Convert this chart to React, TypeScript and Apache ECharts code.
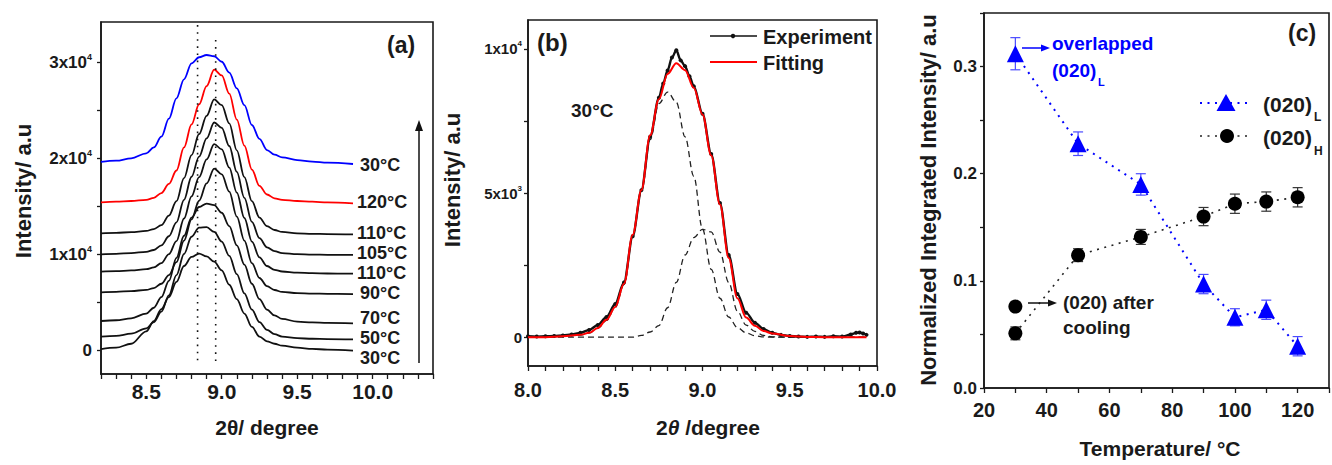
import React, { useEffect, useRef } from "react";
import * as echarts from "echarts";

const FONT = '"Liberation Sans", Arial, Helvetica, sans-serif';
const INK = "#1a1a1a";

// ---------------- panel (a) : stacked XRD patterns ----------------
const aTheta = [8.2, 8.3, 8.4, 8.5, 8.55, 8.6, 8.65, 8.7, 8.75, 8.8, 8.85, 8.9, 8.95, 9.0, 9.05, 9.1, 9.15, 9.2, 9.25, 9.3, 9.35, 9.4, 9.5, 9.6, 9.7, 9.87];
const aBlue30 = [19600, 19720, 19970, 20490, 21100, 22220, 24100, 26220, 28200, 29860, 30500, 30730, 30600, 30030, 28900, 27260, 25500, 23440, 22000, 20830, 20350, 20070, 19790, 19620, 19510, 19375];
const aRed120 = [15380, 15450, 15520, 15650, 15850, 16350, 17300, 18700, 21100, 23500, 25600, 27500, 29200, 28600, 26700, 24000, 21300, 18800, 17100, 16200, 15800, 15650, 15520, 15450, 15380, 15280];
const aK110a = [12150, 12200, 12280, 12400, 12600, 13000, 14000, 15500, 17900, 20300, 22500, 24400, 26100, 25500, 23600, 20800, 18000, 15500, 13800, 12900, 12500, 12300, 12150, 12100, 12080, 12050];
const aK105 = [9970, 10020, 10100, 10230, 10420, 10900, 11850, 13300, 15650, 18050, 20150, 22050, 23700, 23150, 21250, 18550, 15850, 13350, 11650, 10700, 10300, 10100, 9980, 9940, 9920, 9900];
const aK110b = [8160, 8210, 8290, 8420, 8600, 9060, 9990, 11350, 13700, 16000, 18000, 19850, 21450, 20900, 19000, 16400, 13750, 11300, 9650, 8750, 8350, 8180, 8060, 8000, 7970, 7950];
const aK90 = [6010, 6060, 6140, 6260, 6450, 6900, 7800, 9150, 11400, 13600, 15550, 17350, 18900, 18300, 16500, 13900, 11400, 9050, 7500, 6650, 6250, 6050, 5930, 5880, 5850, 5830];
const aK70 = [3020, 3100, 3300, 3800, 4400, 5500, 7200, 9600, 11900, 13800, 14900, 15250, 15100, 14300, 12900, 10900, 8900, 6900, 5300, 4200, 3600, 3250, 2950, 2870, 2820, 2780];
const aK50 = [1390, 1470, 1700, 2250, 2900, 4000, 5700, 7800, 10000, 11800, 12750, 12800, 12300, 11300, 9800, 7900, 5900, 4200, 2900, 2100, 1650, 1400, 1230, 1170, 1140, 1110];
const aK30 = [100, 240, 650, 1950, 3000, 4250, 5500, 7100, 8750, 9700, 10050, 9750, 9200, 8300, 6800, 5300, 3800, 2400, 1400, 900, 650, 450, 240, 120, 40, -70];
const aTempLabels = ["30°C", "120°C", "110°C", "105°C", "110°C", "90°C", "70°C", "50°C", "30°C"];
const aGuideX = [8.84, 8.96];
const aGuideTop = [33850, 32300];
const aGuideBottom = [-1350, -1250];
const aTickValuesY = [0, 5000, 10000, 15000, 20000, 25000, 30000];
const aLabelValuesY = [0, 10000, 20000, 30000];

// ---------------- panel (b) : peak fitting at 30 °C ----------------
const bTheta = [8.0, 8.1, 8.2, 8.3, 8.35, 8.4, 8.45, 8.5, 8.55, 8.6, 8.65, 8.7, 8.75, 8.8, 8.85, 8.9, 8.95, 9.0, 9.05, 9.1, 9.15, 9.2, 9.25, 9.3, 9.35, 9.4, 9.5, 9.6, 9.7, 9.8, 9.9, 9.94];
const bFit = [0, 0, 30, 80, 150, 320, 600, 1050, 1850, 3550, 5100, 7000, 8250, 9130, 9500, 9260, 8650, 7720, 6300, 4600, 2750, 1350, 680, 400, 210, 130, 40, 10, 0, 0, 0, 0];
const bPeak1 = [0, 0, 25, 75, 145, 310, 580, 1030, 1820, 3500, 5050, 6850, 8100, 8500, 8150, 6950, 5580, 3750, 2350, 1350, 700, 330, 150, 50, 10, 0, 0, 0, 0, 0, 0, 0];
const bPeak2 = [0, 0, 0, 0, 0, 0, 0, 0, 0, 0, 60, 180, 400, 1020, 1900, 2850, 3450, 3740, 3650, 2950, 1900, 900, 420, 200, 60, 10, 0, 0, 0, 0, 0, 0];
const bExpTheta = [8.0, 8.05, 8.1, 8.15, 8.2, 8.25, 8.3, 8.35, 8.4, 8.45, 8.5, 8.55, 8.6, 8.65, 8.7, 8.75, 8.775, 8.8, 8.825, 8.85, 8.875, 8.9, 8.925, 8.95, 9.0, 9.05, 9.1, 9.15, 9.2, 9.25, 9.3, 9.35, 9.4, 9.45, 9.5, 9.55, 9.6, 9.65, 9.7, 9.75, 9.8, 9.85, 9.88, 9.9, 9.92, 9.94];
const bExp = [30, 20, 30, 40, 60, 90, 150, 250, 420, 700, 1150, 1900, 3500, 5100, 6950, 8300, 8800, 9250, 9700, 9950, 9600, 9400, 9050, 8700, 7750, 6350, 4650, 2850, 1500, 850, 500, 280, 150, 80, 40, 20, 10, 20, 10, 30, 20, 90, 150, 160, 130, 80];
const bTickValuesY = [0, 2500, 5000, 7500, 10000];
const bLabelValuesY = [0, 5000, 10000];

// ---------------- panel (c) : normalized integrated intensity ----------------
const cTempL = [30, 50, 70, 90, 100, 110, 120];
const cValL = [0.312, 0.228, 0.19, 0.097, 0.066, 0.073, 0.039];
const cErrL = [0.015, 0.011, 0.01, 0.009, 0.008, 0.009, 0.009];
const cTempH = [30, 50, 70, 90, 100, 110, 120];
const cValH = [0.051, 0.124, 0.141, 0.16, 0.172, 0.174, 0.178];
const cErrH = [0.006, 0.006, 0.007, 0.0085, 0.009, 0.009, 0.009];
const cCooledTemp = [30];
const cCooledVal = [0.076];

const axisLine = { show: true, onZero: false, lineStyle: { color: INK, width: 1.6 } };
const tickLine = { color: INK, width: 1.3 };

function xAxis(grid: number, min: number, max: number, interval: number, fontSize: number, margin: number, fmt: (v: number) => string) {
  return {
    gridIndex: grid, type: "value", min, max, interval,
    axisLine, axisTick: { show: true, inside: false, length: 5, lineStyle: tickLine },
    axisLabel: { interval: 0, formatter: fmt, fontFamily: FONT, fontWeight: "bold", fontSize, color: INK, margin },
    splitLine: { show: false },
  };
}

const half = (v: number) => {
  const r = Math.round(v * 2) / 2;
  return Math.abs(v - r) < 1e-6 ? r.toFixed(1) : "";
};

function errBar(color: string, width: number) {
  return (_p: any, api: any) => {
    const x = api.value(0);
    const lo = api.value(1);
    const hi = api.value(2);
    const t = api.coord([x, hi]);
    const b = api.coord([x, lo]);
    const hw = 5;
    const style = { stroke: color, lineWidth: width };
    return {
      type: "group",
      children: [
        { type: "line", shape: { x1: t[0], y1: t[1], x2: b[0], y2: b[1] }, style },
        { type: "line", shape: { x1: t[0] - hw, y1: t[1], x2: t[0] + hw, y2: t[1] }, style },
        { type: "line", shape: { x1: b[0] - hw, y1: b[1], x2: b[0] + hw, y2: b[1] }, style },
      ],
    };
  };
}

const T = (x: number, y: number, text: string, o: any = {}) => ({
  type: "text", x, y, silent: true, z: 50,
  style: { text, fontFamily: FONT, fontWeight: "bold", fontSize: 19, fill: INK, align: "left", verticalAlign: "middle", ...o },
});
const VT = (x: number, y: number, text: string, fontSize: number) => ({
  type: "text", x, y, rotation: Math.PI / 2, silent: true, z: 50,
  style: { text, fontFamily: FONT, fontWeight: "bold", fontSize, fill: INK, align: "center", verticalAlign: "middle" },
});
const L = (x1: number, y1: number, x2: number, y2: number, stroke: string, lineWidth: number, lineDash?: number[]) => ({
  type: "line", silent: true, z: 50, shape: { x1, y1, x2, y2 }, style: { stroke, lineWidth, lineDash },
});
const P = (points: number[][], fill: string) => ({ type: "polygon", silent: true, z: 50, shape: { points }, style: { fill } });

export default function App() {
  const ref = useRef<HTMLDivElement>(null);
  useEffect(() => {
    if (!ref.current) return;
    const chart = echarts.init(ref.current, null, { renderer: "svg" });

    const aCurves = [
      { d: aBlue30, c: "#0000ff" },
      { d: aRed120, c: "#ff0000" },
      { d: aK110a, c: "#111" },
      { d: aK105, c: "#111" },
      { d: aK110b, c: "#111" },
      { d: aK90, c: "#111" },
      { d: aK70, c: "#111" },
      { d: aK50, c: "#111" },
      { d: aK30, c: "#111" },
    ];

    const sciRich = {
      n: { fontFamily: FONT, fontWeight: "bold", color: INK, fontSize: 17, lineHeight: 20 },
      s: { fontFamily: FONT, fontWeight: "bold", color: INK, fontSize: 9, lineHeight: 9, verticalAlign: "top" },
    };
    const sciRichB = {
      n: { fontFamily: FONT, fontWeight: "bold", color: INK, fontSize: 15, lineHeight: 18 },
      s: { fontFamily: FONT, fontWeight: "bold", color: INK, fontSize: 8, lineHeight: 8, verticalAlign: "top" },
    };

    const series: any[] = [];
    aCurves.forEach((cv, i) => {
      series.push({
        type: "line", xAxisIndex: 0, yAxisIndex: 0, silent: true, symbol: "none",
        smooth: 0.35, smoothMonotone: "x", z: 10 - i,
        data: aTheta.map((x, k) => [x, cv.d[k]]),
        lineStyle: { color: cv.c, width: 1.8 },
      });
    });
    aGuideX.forEach((gx, i) => {
      series.push({
        type: "line", xAxisIndex: 0, yAxisIndex: 0, silent: true, symbol: "none", z: 12,
        data: [[gx, aGuideTop[i]], [gx, aGuideBottom[i]]],
        lineStyle: { color: "#111", width: 1.6, type: [1.6, 5.5] },
      });
    });

    // panel (b)
    series.push({
      type: "line", xAxisIndex: 1, yAxisIndex: 1, silent: true, z: 5,
      data: bExpTheta.map((x, k) => [x, bExp[k]]),
      smooth: 0.3, smoothMonotone: "x",
      symbol: "circle", symbolSize: 4, showSymbol: true,
      itemStyle: { color: "#111" }, lineStyle: { color: "#111", width: 2.4 },
    });
    [bPeak1, bPeak2].forEach((pk) => {
      series.push({
        type: "line", xAxisIndex: 1, yAxisIndex: 1, silent: true, symbol: "none", z: 6,
        smooth: 0.35, smoothMonotone: "x",
        data: bTheta.map((x, k) => [x, pk[k]]),
        lineStyle: { color: "#222", width: 1.3, type: [6, 4] },
      });
    });
    series.push({
      type: "line", xAxisIndex: 1, yAxisIndex: 1, silent: true, symbol: "none", z: 7,
      smooth: 0.35, smoothMonotone: "x",
      data: bTheta.map((x, k) => [x, bFit[k]]),
      lineStyle: { color: "#ff0000", width: 2 },
    });

    // panel (c)
    series.push({
      type: "custom", xAxisIndex: 2, yAxisIndex: 2, silent: true, z: 3,
      renderItem: errBar("#4a4aff", 1.2),
      encode: { x: 0, y: [1, 2] },
      data: cTempL.map((t, k) => [t, cValL[k] - cErrL[k], cValL[k] + cErrL[k]]),
    });
    series.push({
      type: "custom", xAxisIndex: 2, yAxisIndex: 2, silent: true, z: 3,
      renderItem: errBar("#333", 1.2),
      encode: { x: 0, y: [1, 2] },
      data: cTempH.map((t, k) => [t, cValH[k] - cErrH[k], cValH[k] + cErrH[k]]),
    });
    series.push({
      type: "line", xAxisIndex: 2, yAxisIndex: 2, silent: true, z: 5,
      data: cTempL.map((t, k) => [t, cValL[k]]),
      symbol: "triangle", symbolSize: 17,
      itemStyle: { color: "#0000ff", opacity: 1 }, lineStyle: { color: "#0000ff", width: 2, type: [2, 5.5] },
    });
    series.push({
      type: "line", xAxisIndex: 2, yAxisIndex: 2, silent: true, z: 5,
      data: cTempH.map((t, k) => [t, cValH[k]]),
      symbol: "circle", symbolSize: 14,
      itemStyle: { color: "#000", opacity: 1 }, lineStyle: { color: "#222", width: 1.6, type: [2, 5.5] },
    });
    series.push({
      type: "scatter", xAxisIndex: 2, yAxisIndex: 2, silent: true, z: 5,
      data: cCooledTemp.map((t, k) => [t, cCooledVal[k]]),
      symbol: "circle", symbolSize: 14, itemStyle: { color: "#000", opacity: 1 },
    });

    const aLabelYs = [165, 202, 233, 253, 273, 293, 318, 338, 358];
    const aLabelXs = [360, 357, 357, 357, 357, 360, 360, 360, 360];

    const graphic: any[] = [
      // panel (a) annotations
      T(387, 45, "(a)", { fontSize: 23 }),
      ...aTempLabels.map((s, i) => T(aLabelXs[i], aLabelYs[i], s, { fontSize: 18, lineHeight: 16 })),
      L(419, 363, 419, 128, "#111", 1.5),
      P([[419, 120], [415, 131], [423, 131]], "#111"),
      VT(23, 191, "Intensity/ a.u", 22),
      T(267, 427, "2θ/ degree", { fontSize: 21, align: "center" }),
      // panel (b) annotations
      T(537, 42, "(b)", { fontSize: 24 }),
      T(571, 110, "30°C", { fontSize: 19 }),
      L(710, 36, 757, 36, "#111", 1.5),
      { type: "circle", silent: true, z: 50, shape: { cx: 733, cy: 36, r: 2.2 }, style: { fill: "#111" } },
      T(763, 37, "Experiment", { fontSize: 20 }),
      L(710, 62, 757, 62, "#ff0000", 2),
      T(763, 63, "Fitting", { fontSize: 20 }),
      VT(452, 180, "Intensity/ a.u", 22),
      {
        type: "text", x: 708, y: 427, silent: true, z: 50,
        style: {
          text: "{n|2}{i|θ}{n| /degree}", align: "center", verticalAlign: "middle",
          rich: {
            n: { fontFamily: FONT, fontWeight: "bold", fontSize: 21, fill: INK },
            i: { fontFamily: FONT, fontWeight: "bold", fontStyle: "italic", fontSize: 21, fill: INK },
          },
        },
      },
      // panel (c) annotations
      T(1288, 33, "(c)", { fontSize: 23 }),
      L(1200, 103, 1250, 103, "#0000ff", 2, [2, 5.5]),
      P([[1226, 94], [1216.5, 111], [1235.5, 111]], "#0000ff"),
      T(1263, 104, "(020)", { fontSize: 21 }),
      T(1314, 117, "L", { fontSize: 12 }),
      L(1200, 136, 1250, 136, "#222", 1.6, [2, 5.5]),
      { type: "circle", silent: true, z: 50, shape: { cx: 1227, cy: 136, r: 7 }, style: { fill: "#000" } },
      T(1263, 137, "(020)", { fontSize: 21 }),
      T(1314, 151, "H", { fontSize: 12 }),
      T(1052, 43, "overlapped", { fontSize: 19, fill: "#0000ff" }),
      T(1052, 70, "(020)", { fontSize: 19, fill: "#0000ff" }),
      T(1098, 82, "L", { fontSize: 11, fill: "#0000ff" }),
      L(1022, 48, 1042, 48, "#0000ff", 1.5),
      P([[1050, 48], [1041, 44.5], [1041, 51.5]], "#0000ff"),
      T(1063, 302, "(020) after", { fontSize: 19 }),
      T(1063, 327, "cooling", { fontSize: 19 }),
      L(1028, 303, 1049, 303, "#111", 1.5),
      P([[1057, 303], [1048, 299.5], [1048, 306.5]], "#111"),
      VT(928, 200, "Normalized Integrated Intensity/ a.u", 22),
      T(1160, 448, "Temperature/ °C", { fontSize: 21, align: "center" }),
    ];

    chart.setOption({
      animation: false,
      backgroundColor: "#ffffff",
      grid: [
        { left: 101, top: 22, width: 332, height: 352, show: true, borderColor: INK, borderWidth: 1.6, backgroundColor: "transparent" },
        { left: 528, top: 20, width: 349, height: 346, show: true, borderColor: INK, borderWidth: 1.6, backgroundColor: "transparent" },
        { left: 984, top: 13, width: 352, height: 375, show: true, borderColor: INK, borderWidth: 1.6, backgroundColor: "transparent" },
      ],
      xAxis: [
        xAxis(0, 8.2, 10.4, 0.1, 21, 7, half),
        xAxis(1, 8.0, 10.0, 0.1, 20, 14, half),
        xAxis(2, 20, 130, 10, 20, 12, (v: number) => (Math.round(v) % 20 === 0 ? String(Math.round(v)) : "")),
      ],
      yAxis: [
        {
          gridIndex: 0, type: "value", min: -2500, max: 34170,
          axisLine, axisTick: { show: true, length: 4, customValues: aTickValuesY, lineStyle: tickLine },
          axisLabel: {
            customValues: aLabelValuesY, margin: 9, rich: sciRich,
            formatter: (v: number) => (v === 0 ? "{n|0}" : `{n|${Math.round(v / 10000)}x10}{s|4}`),
          },
          splitLine: { show: false },
        },
        {
          gridIndex: 1, type: "value", min: -1000, max: 11000,
          axisLine, axisTick: { show: true, length: 4, customValues: bTickValuesY, lineStyle: tickLine },
          axisLabel: {
            customValues: bLabelValuesY, margin: 6, rich: sciRichB,
            formatter: (v: number) => (v === 0 ? "{n|0}" : v === 5000 ? "{n|5x10}{s|3}" : "{n|1x10}{s|4}"),
          },
          splitLine: { show: false },
        },
        {
          gridIndex: 2, type: "value", min: 0, max: 0.35, interval: 0.05,
          axisLine, axisTick: { show: true, length: 4, lineStyle: tickLine },
          axisLabel: {
            interval: 0, margin: 7, fontFamily: FONT, fontWeight: "bold", fontSize: 17, color: INK,
            formatter: (v: number) => {
              const r = Math.round(v * 10) / 10;
              return Math.abs(v - r) < 1e-6 && v < 0.34 ? r.toFixed(1) : "";
            },
          },
          splitLine: { show: false },
        },
      ],
      series,
      graphic,
    });
    return () => chart.dispose();
  }, []);

  return (
    <div
      ref={ref}
      style={{ position: "fixed", left: 0, top: 0, width: 1332, height: 465, background: "#fff" }}
    />
  );
}
